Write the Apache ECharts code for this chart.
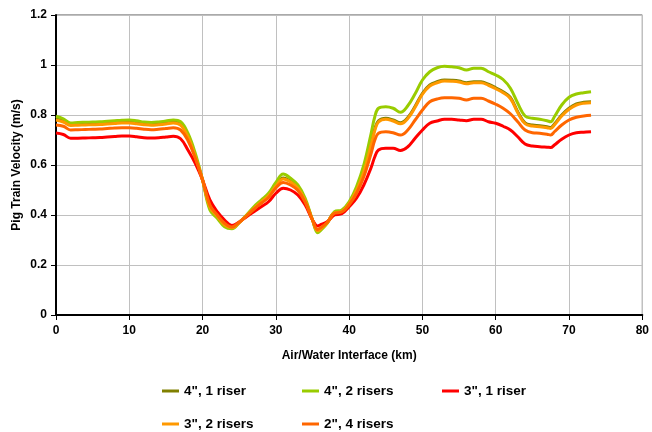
<!DOCTYPE html>
<html>
<head>
<meta charset="utf-8">
<script src="https://cdn.jsdelivr.net/npm/echarts@6/dist/echarts.min.js"></script>
<style>html,body{margin:0;padding:0;background:#fff;}#c{width:652px;height:432px;}</style>
</head>
<body>
<div id="c"></div>
<script>
const km = [0,1,2,3,4,5,6,7,8,9,10,11,12,13,14,15,16,17,18,19,20,21,22,23,24,25,26,27,28,29,30,31,32,33,34,35,35.7,36,37,38,39,40,41,42,43,43.5,44,45,46,47,48,49,50,51,52,53,54,55,56,57,58,59,60,61,62,63,64,65,66,67,67.5,68,69,70,71,72,73];

const v4in1riser = [0.785,0.777,0.762,0.763,0.764,0.765,0.766,0.768,0.770,0.772,0.772,0.769,0.765,0.763,0.765,0.768,0.772,0.763,0.715,0.635,0.540,0.430,0.395,0.360,0.348,0.370,0.398,0.427,0.453,0.479,0.518,0.548,0.535,0.510,0.458,0.380,0.336,0.341,0.369,0.410,0.415,0.447,0.500,0.577,0.687,0.745,0.777,0.787,0.780,0.769,0.790,0.835,0.887,0.920,0.933,0.940,0.939,0.936,0.929,0.933,0.933,0.923,0.909,0.893,0.870,0.813,0.769,0.760,0.757,0.753,0.750,0.764,0.800,0.827,0.844,0.851,0.853];

const v4in2risers = [0.795,0.785,0.768,0.770,0.771,0.772,0.773,0.775,0.777,0.779,0.780,0.777,0.772,0.770,0.772,0.776,0.780,0.773,0.727,0.647,0.540,0.420,0.387,0.353,0.345,0.370,0.400,0.433,0.460,0.487,0.530,0.564,0.547,0.520,0.467,0.380,0.329,0.335,0.367,0.413,0.420,0.453,0.513,0.600,0.727,0.793,0.827,0.833,0.827,0.811,0.837,0.885,0.940,0.973,0.989,0.995,0.993,0.989,0.980,0.987,0.987,0.973,0.960,0.942,0.907,0.847,0.796,0.787,0.783,0.777,0.773,0.793,0.840,0.871,0.884,0.889,0.893];

const v3in1riser = [0.728,0.722,0.707,0.707,0.708,0.709,0.710,0.712,0.714,0.716,0.716,0.713,0.709,0.708,0.709,0.712,0.715,0.705,0.660,0.607,0.540,0.460,0.413,0.380,0.358,0.372,0.393,0.413,0.433,0.453,0.487,0.507,0.500,0.480,0.440,0.380,0.356,0.360,0.373,0.400,0.405,0.433,0.467,0.520,0.590,0.633,0.660,0.667,0.667,0.658,0.673,0.707,0.740,0.767,0.776,0.783,0.783,0.780,0.777,0.783,0.783,0.773,0.767,0.755,0.740,0.713,0.684,0.676,0.673,0.671,0.670,0.680,0.703,0.720,0.729,0.731,0.733];

const v3in2risers = [0.780,0.772,0.758,0.759,0.760,0.761,0.762,0.764,0.766,0.768,0.768,0.765,0.761,0.759,0.761,0.764,0.768,0.759,0.712,0.633,0.540,0.432,0.396,0.361,0.349,0.370,0.398,0.426,0.452,0.477,0.515,0.544,0.532,0.507,0.456,0.380,0.337,0.342,0.369,0.409,0.414,0.446,0.497,0.572,0.680,0.738,0.772,0.783,0.776,0.765,0.786,0.831,0.883,0.916,0.929,0.936,0.935,0.932,0.925,0.929,0.929,0.919,0.905,0.889,0.866,0.809,0.765,0.756,0.753,0.749,0.746,0.760,0.796,0.823,0.840,0.847,0.849];

const v2in4risers = [0.760,0.755,0.740,0.741,0.742,0.743,0.744,0.746,0.748,0.749,0.749,0.747,0.743,0.741,0.743,0.746,0.749,0.740,0.698,0.628,0.540,0.440,0.400,0.367,0.352,0.371,0.396,0.423,0.447,0.470,0.508,0.530,0.520,0.498,0.452,0.380,0.342,0.347,0.370,0.407,0.412,0.441,0.487,0.553,0.647,0.700,0.727,0.733,0.729,0.720,0.740,0.780,0.820,0.853,0.864,0.869,0.869,0.867,0.860,0.867,0.867,0.856,0.843,0.827,0.805,0.773,0.740,0.729,0.727,0.723,0.720,0.733,0.760,0.780,0.791,0.796,0.799];

const seriesNames = ['4", 1 riser', '4", 2 risers', '3", 1 riser', '3", 2 risers', '2", 4 risers'];
const seriesValues = [v4in1riser, v4in2risers, v3in1riser, v3in2risers, v2in4risers];
const seriesColors = ['#808000', '#99cc00', '#ff0000', '#ff9900', '#ff6600'];

const xTicks = [0,10,20,30,40,50,60,70,80];
const yTicks = [0,0.2,0.4,0.6,0.8,1,1.2];

const FONT = 'Liberation Sans, Arial, sans-serif';
const legendPos = [[162,384],[302,384],[442,384],[162,417],[302,417]];

const chart = echarts.init(document.getElementById('c'), null, {renderer:'canvas'});
chart.setOption({
  animation: false,
  backgroundColor: '#ffffff',
  grid: {left:56, top:15, right:6, bottom:117, show:true, borderColor:'#555555', borderWidth:1, backgroundColor:'transparent'},
  xAxis: {
    type:'value', min:xTicks[0], max:xTicks[xTicks.length-1], interval:10,
    name:'Air/Water Interface (km)', nameLocation:'middle', nameGap:35, nameMoveOverlap:false,
    nameTextStyle:{fontFamily:FONT, fontWeight:'bold', fontSize:12, color:'#000'},
    axisLine:{show:true, onZero:false, lineStyle:{color:'#000', width:2}},
    axisTick:{show:true, length:5, lineStyle:{color:'#000', width:1}},
    axisLabel:{fontFamily:FONT, fontWeight:'bold', fontSize:12, color:'#000', margin:10},
    splitLine:{show:true, lineStyle:{color:'#c0c0c0', width:1}}
  },
  yAxis: {
    type:'value', min:yTicks[0], max:yTicks[yTicks.length-1], interval:0.2,
    name:'Pig Train Velocity (m/s)', nameLocation:'middle', nameGap:33, nameRotate:90, nameMoveOverlap:false,
    nameTextStyle:{fontFamily:FONT, fontWeight:'bold', fontSize:12, color:'#000'},
    axisLine:{show:true, onZero:false, lineStyle:{color:'#000', width:2}},
    axisTick:{show:true, length:5, lineStyle:{color:'#000', width:1}},
    axisLabel:{fontFamily:FONT, fontWeight:'bold', fontSize:12, color:'#000', margin:9},
    splitLine:{show:true, lineStyle:{color:'#c0c0c0', width:1}}
  },
  legend: seriesNames.map((n,i)=>({
    data:[n], left:legendPos[i][0], top:legendPos[i][1], icon:'rect', itemWidth:17, itemHeight:3,
    textStyle:{fontFamily:FONT, fontWeight:'bold', fontSize:13.5, color:'#000'},
    selectedMode:false, padding:0
  })),
  series: seriesNames.map((n,i)=>({
    name:n, type:'line', showSymbol:false, smooth:0.4,
    data: km.map((x,j)=>[x, seriesValues[i][j]]),
    lineStyle:{color:seriesColors[i], width:3},
    itemStyle:{color:seriesColors[i]}
  }))
});
</script>
</body>
</html>
